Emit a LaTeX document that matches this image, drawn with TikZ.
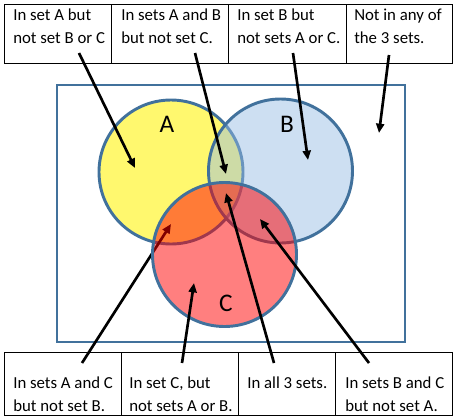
\documentclass[tikz,border=0pt]{standalone}
\usepackage{fontspec}
\setmainfont{Carlito}
\usetikzlibrary{arrows.meta}
\definecolor{edgeblue}{RGB}{65,113,156}
\definecolor{setB}{RGB}{150,188,228}
\tikzset{
  boxline/.style={draw=black,line width=0.75pt},
  boxtext/.style={anchor=base west,inner sep=0pt,font=\fontsize{12.6}{15}\selectfont},
  setlabel/.style={anchor=center,inner sep=0pt,font=\fontsize{19}{22}\selectfont},
  setcircle/.style={draw=edgeblue,line width=2.2pt},
  pointer/.style={draw=black,line width=2pt,-{Triangle[length=7pt,width=6pt]}},
}
\begin{document}
\begin{tikzpicture}[x=0.75pt,y=-0.75pt]
\useasboundingbox (0,0) rectangle (458,419);
% top boxes
\draw[boxline] (4,4) rectangle (452,63);
\foreach \xx in {111,228,346} \draw[boxline] (\xx,4) -- (\xx,63);
% bottom boxes
\draw[boxline] (4,352) rectangle (452,415);
\foreach \xx in {121,238,335} \draw[boxline] (\xx,352) -- (\xx,415);
% texts top
\node[boxtext] (t1a) at (13,20) {In set A but};
\node[boxtext] (t1b) at (13,43) {not set B or C};
\node[boxtext] (t2a) at (121,20) {In sets A and B};
\node[boxtext] (t2b) at (121,43) {but not set C.};
\node[boxtext] (t3a) at (237,20) {In set B but};
\node[boxtext] (t3b) at (237,43) {not sets A or C.};
\node[boxtext] (t4a) at (354,20) {Not in any of};
\node[boxtext] (t4b) at (354,43) {the 3 sets.};
% texts bottom
\node[boxtext] (b1a) at (13,388) {In sets A and C};
\node[boxtext] (b1b) at (13,411) {but not set B.};
\node[boxtext] (b2a) at (129,388) {In set C, but};
\node[boxtext] (b2b) at (129,411) {not sets A or B.};
\node[boxtext] (b3a) at (247,388) {In all 3 sets.};
\node[boxtext] (b4a) at (345,388) {In sets B and C};
\node[boxtext] (b4b) at (345,411) {but not set A.};
% universe
\draw[draw=edgeblue,line width=2.2pt] (57,85) rectangle (405,342);
% arrow coordinates
\coordinate (s1) at (79,53);   \coordinate (h1) at (135,168);
\coordinate (s2) at (195,53);  \coordinate (h2) at (226,174);
\coordinate (s3) at (293,53);  \coordinate (h3) at (308,160);
\coordinate (s4) at (389,55);  \coordinate (h4) at (379,133);
\coordinate (s5) at (82,363);  \coordinate (h5) at (171,224);
\coordinate (s6) at (182,363); \coordinate (h6) at (194,283);
\coordinate (s7) at (274,363); \coordinate (h7) at (226,193);
\coordinate (s8) at (369,363); \coordinate (h8) at (260,219);
% circles
\draw[setcircle,fill=yellow,fill opacity=0.57] (171,172) circle[radius=72];
\draw[setcircle,fill=setB,fill opacity=0.48] (280.5,171) circle[radius=72];
\draw[pointer] (s5) -- (h5);
\draw[setcircle,fill=red,fill opacity=0.5] (224.5,254.5) circle[radius=72];
% labels
\node[setlabel] (A) at (167,124) {A};
\node[setlabel] (B) at (287,124) {B};
\node[setlabel] (C) at (226,303) {C};
% arrows
\draw[pointer] (s1) -- (h1);
\draw[pointer] (s2) -- (h2);
\draw[pointer] (s3) -- (h3);
\draw[pointer] (s4) -- (h4);
\draw[pointer] (s6) -- (h6);
\draw[pointer] (s7) -- (h7);
\draw[pointer] (s8) -- (h8);
\end{tikzpicture}
\end{document}
